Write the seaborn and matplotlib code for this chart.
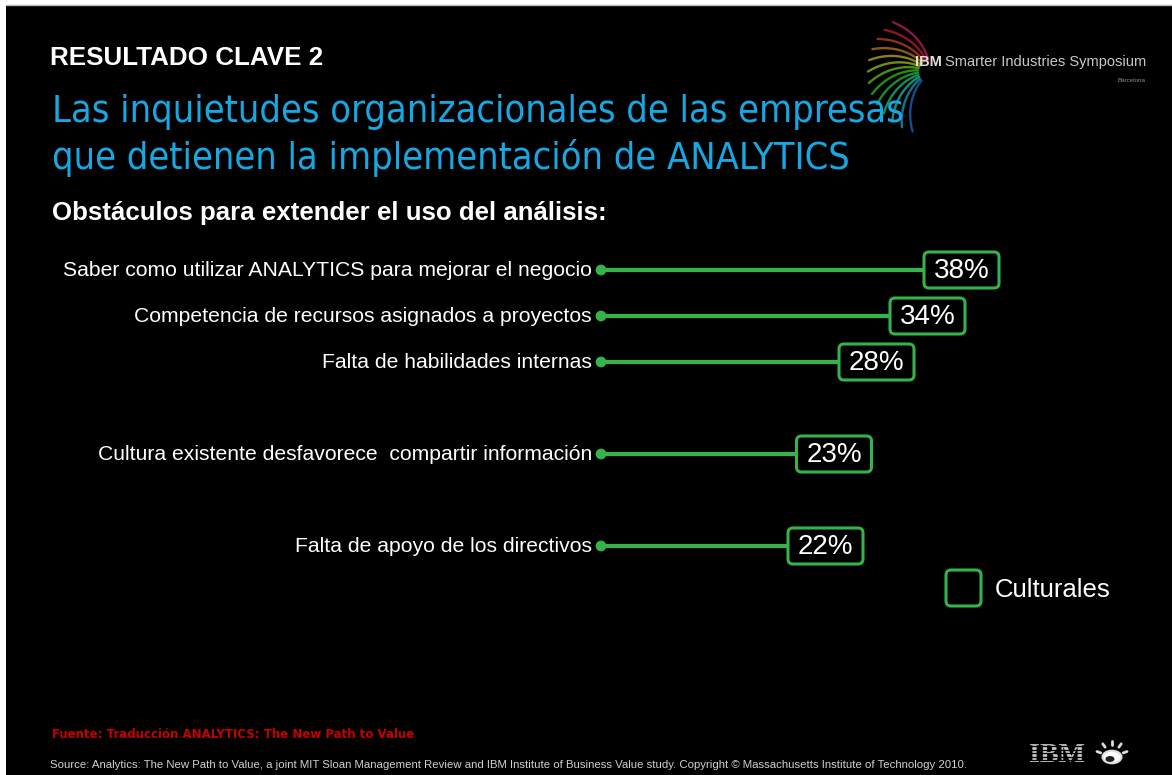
import numpy as np
import pandas as pd
import seaborn as sns
import matplotlib.pyplot as plt
from matplotlib.patches import FancyBboxPatch, Rectangle, Circle
from matplotlib.lines import Line2D
from matplotlib.transforms import IdentityTransform
import colorsys

# ---- data -------------------------------------------------------------
obstacles = [
    "Saber como utilizar ANALYTICS para mejorar el negocio",
    "Competencia de recursos asignados a proyectos",
    "Falta de habilidades internas",
    "Cultura existente desfavorece  compartir información",
    "Falta de apoyo de los directivos",
]
percent = [38, 34, 28, 23, 22]
category = ["Culturales"] * 5
# vertical slot of each row (blank slots separate the last two items)
row_slot = [0, 1, 2, 4, 6]

title_kicker = "RESULTADO CLAVE 2"
title_lines = ["Las inquietudes organizacionales de las empresas",
               "que detienen la implementación de ANALYTICS"]
subtitle = "Obstáculos para extender el uso del análisis:"
note_red = "Fuente: Traducción ANALYTICS: The New Path to Value"
note_source = ("Source: Analytics: The New Path to Value, a joint MIT Sloan Management Review "
               "and IBM Institute of Business Value study. Copyright © Massachusetts "
               "Institute of Technology 2010.")

df = pd.DataFrame({"obstacle": obstacles, "percent": percent,
                   "category": category, "slot": row_slot})

# ---- style ------------------------------------------------------------
W, H = 1172, 775
GREEN = "#35b24a"
BLUE = "#17a8e3"
sns.set_theme(style="dark")
plt.rcParams["font.family"] = ["Liberation Sans", "DejaVu Sans"]

fig = plt.figure(figsize=(W / 100, H / 100), dpi=100, facecolor="white")
renderer = fig.canvas.get_renderer()


def fx(px):
    return px / W


def fy(py):
    return 1 - py / H


def fit_width(t, width_px):
    bb = t.get_window_extent(renderer)
    t.set_fontsize(t.get_fontsize() * width_px / bb.width)
    return t


# black slide with a thin grey top rule
fig.add_artist(Rectangle((fx(6), 0), 1 - fx(6), fy(5), transform=fig.transFigure,
                         facecolor="black", edgecolor="none", zorder=0))
fig.add_artist(Line2D([fx(6), 1], [fy(4.5), fy(4.5)], color="#b8b8b8", lw=1,
                      transform=fig.transFigure))

# ---- event logo, top right (drawn first so the title sits over it) -------
cx, cy = 930, 72
for i, ang in enumerate(np.linspace(98, 225, 13)):
    hue = (0.93 + i * 0.055) % 1.0
    col = colorsys.hsv_to_rgb(hue, 0.85, 0.85)
    rr = np.linspace(12, 62, 30)
    th = np.deg2rad(ang) + np.linspace(0, 0.5, 30)
    fig.add_artist(Line2D([fx(cx + r_ * np.cos(a_)) for r_, a_ in zip(rr, th)],
                          [fy(cy - r_ * np.sin(a_)) for r_, a_ in zip(rr, th)],
                          color=col, lw=1.7, alpha=0.65,
                          transform=fig.transFigure, zorder=1))
lb = fig.text(fx(915), fy(62), "IBM", color="#e0e0e0", fontweight="bold",
              ha="left", va="center", fontsize=10.5)
bb = lb.get_window_extent(renderer)
fig.text(bb.x1 / W + fx(3), fy(62), "Smarter Industries Symposium", color="#c8c8c8",
         ha="left", va="center", fontsize=10.5)
fig.text(fx(1146), fy(80), "Barcelona", color="#909090", ha="right", va="center",
         fontsize=4.5)

# ---- plot area ----------------------------------------------------------
PX_X = 8.5      # pixels per percentage point
PX_Y = 46.0     # pixels per row slot
x0_px, top_px, bot_px = 601, 224, 638
ax = fig.add_axes([fx(x0_px), fy(bot_px), 1 - fx(x0_px), (bot_px - top_px) / H])
ax.set_facecolor("none")

for _, r in df.iterrows():
    ax.plot([0, r.percent], [r.slot, r.slot], color=GREEN, lw=3.0,
            solid_capstyle="butt", zorder=2)

sns.scatterplot(data=df, x=np.zeros(len(df)), y="slot", ax=ax, color=GREEN,
                s=60, edgecolor="none", zorder=3, legend=False, clip_on=False)

box_w = 75 / PX_X
box_h = 36 / PX_Y
for _, r in df.iterrows():
    ax.add_patch(FancyBboxPatch((r.percent, r.slot - box_h / 2), box_w, box_h,
                                boxstyle=f"round,pad=0,rounding_size={5 / PX_X}",
                                mutation_aspect=PX_X / PX_Y,
                                facecolor="black", edgecolor=GREEN, lw=2.2,
                                zorder=4, clip_on=False))
    ax.text(r.percent + box_w / 2, r.slot + 0.02, f"{r.percent}%", color="white",
            ha="center", va="center", fontsize=20, zorder=5,
            family=["Liberation Sans Narrow", "Liberation Sans"])
    ax.annotate(r.obstacle, xy=(0, r.slot), xytext=(-9, 0),
                textcoords="offset pixels", ha="right", va="center",
                color="white", fontsize=15.2, annotation_clip=False)

ax.set_xlim(0, (W - x0_px) / PX_X)
ax.set_ylim(max(row_slot) + 2, -1)
ax.set_axis_off()

# ---- legend -------------------------------------------------------------
fig.add_artist(FancyBboxPatch((946, H - 606), 35, 36,
                              boxstyle="round,pad=0,rounding_size=5",
                              transform=IdentityTransform(), facecolor="black",
                              edgecolor=GREEN, lw=2.2))
leg = fig.text(fx(995), fy(590), category[0], color="white", ha="left",
               va="center", fontsize=18)
fit_width(leg, 116)

# ---- titles -----------------------------------------------------------
t = fig.text(fx(50), fy(58), title_kicker, color="white", fontweight="bold",
             ha="left", va="center", fontsize=18)
fit_width(t, 272)

t1 = fig.text(fx(52), fy(112), title_lines[0], color=BLUE, ha="left",
              va="center", fontsize=26, family=["DejaVu Sans"],
              fontstretch="condensed", zorder=3)
fit_width(t1, 853)
fig.text(fx(52), fy(158), title_lines[1], color=BLUE, ha="left", va="center",
         fontsize=t1.get_fontsize(), family=["DejaVu Sans"],
         fontstretch="condensed", zorder=3)

s = fig.text(fx(52), fy(213), subtitle, color="white", fontweight="bold",
             ha="left", va="center", fontsize=16)
fit_width(s, 555)

# ---- footer -------------------------------------------------------------
n1 = fig.text(fx(52), fy(734), note_red, color="#c40000", fontweight="bold",
              ha="left", va="center", fontsize=8, family=["DejaVu Sans"])
fit_width(n1, 362)
n2 = fig.text(fx(50), fy(765), note_source, color="#d0d0d0", ha="left",
              va="center", fontsize=8)
fit_width(n2, 920)

# IBM mark, bottom right
ibm = fig.text(fx(1029), fy(756), "IBM", color="#c8c8c8", fontweight="bold",
               ha="left", va="center", fontsize=21, family=["Liberation Serif"])
fit_width(ibm, 56)
for k in range(8):
    yy = 743 + k * 3.4
    fig.add_artist(Line2D([fx(1024), fx(1090)], [fy(yy), fy(yy)], color="black",
                          lw=0.9, transform=fig.transFigure, zorder=6))
fig.add_artist(Circle((fx(1112), fy(757)), 9.5 / W, transform=fig.transFigure,
                      facecolor="white", edgecolor="#dddddd", lw=1.5))
fig.add_artist(Circle((fx(1110), fy(759)), 4.5 / W, transform=fig.transFigure,
                      facecolor="#202020", edgecolor="none"))
for ang in np.linspace(20, 160, 5):
    a = np.deg2rad(ang)
    fig.add_artist(Line2D([fx(1112 + 12 * np.cos(a)), fx(1112 + 16 * np.cos(a))],
                          [fy(757 - 12 * np.sin(a)), fy(757 - 16 * np.sin(a))],
                          color="#dddddd", lw=2, transform=fig.transFigure))

fig.savefig("out.png", dpi=100, facecolor="white")
